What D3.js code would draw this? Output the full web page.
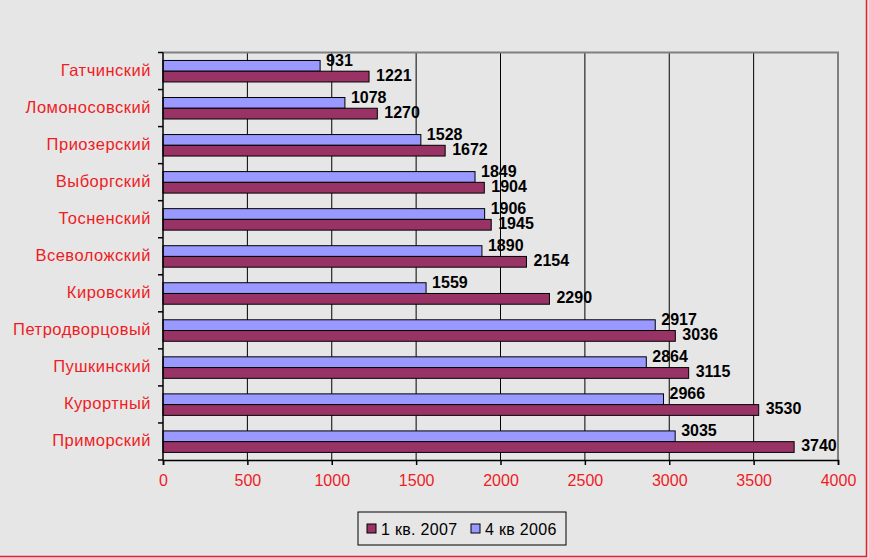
<!DOCTYPE html>
<html>
<head>
<meta charset="utf-8">
<script src="https://cdn.jsdelivr.net/npm/d3@7"></script>
<style>
  body { margin: 0; background: #e6e6e6; overflow: hidden; }
  svg { display: block; font-family: "Liberation Sans", Arial, sans-serif; }
</style>
</head>
<body>
<svg id="chart" width="869" height="558"></svg>
<script>
// районы, сверху вниз
var districts = [
  "Гатчинский", "Ломоносовский", "Приозерский", "Выборгский", "Тосненский",
  "Всеволожский", "Кировский", "Петродворцовый", "Пушкинский", "Курортный", "Приморский"
];
var q4_2006 = [931, 1078, 1528, 1849, 1906, 1890, 1559, 2917, 2864, 2966, 3035];
var q1_2007 = [1221, 1270, 1672, 1904, 1945, 2154, 2290, 3036, 3115, 3530, 3740];
var xTicks = [0, 500, 1000, 1500, 2000, 2500, 3000, 3500, 4000];
var seriesNames = ["4 кв 2006", "1 кв. 2007"];
var legendOrder = ["1 кв. 2007", "4 кв 2006"];
var colors = { "4 кв 2006": "#9999ff", "1 кв. 2007": "#993366" };

var svg = d3.select("#chart"),
  margin = { top: 52.5, right: 31, bottom: 98, left: 163 },
  width = +svg.attr("width") - margin.left - margin.right,
  height = +svg.attr("height") - margin.top - margin.bottom;

// фон и красная рамка (видна только справа и снизу)
svg.append("rect")
  .attr("width", 869).attr("height", 558)
  .attr("fill", "#e6e6e6");
svg.append("path")
  .attr("d", "M866.5,0V556.5H0")
  .attr("fill", "none")
  .attr("stroke", "#e8202a")
  .attr("stroke-width", 1.5);

var xScale = d3.scaleLinear().domain([0, 4000]).range([0, width]);
var yScale = d3.scaleBand().domain(districts).range([0, height]).padding(0);
var bw = yScale.bandwidth();
var inner = d3.scaleBand().domain(seriesNames).range([bw * 0.215, bw * 0.795]);

var g = svg.append("g")
  .attr("transform", "translate(" + margin.left + "," + margin.top + ")");

// вертикальная сетка
g.selectAll(".grid")
  .data(xTicks.slice(1, -1))
  .enter().append("line")
  .attr("x1", function (d) { return xScale(d); })
  .attr("x2", function (d) { return xScale(d); })
  .attr("y1", 0).attr("y2", height)
  .attr("stroke", "#000").attr("stroke-width", 1);

// рамка области построения (серая сверху и справа)
g.append("path")
  .attr("d", "M0,0H" + width + "V" + height)
  .attr("fill", "none")
  .attr("stroke", "#808080")
  .attr("stroke-width", 2);

var rows = districts.map(function (d, i) {
  return { name: d, values: [
    { s: "4 кв 2006", v: q4_2006[i] },
    { s: "1 кв. 2007", v: q1_2007[i] }
  ] };
});

var row = g.selectAll(".row")
  .data(rows)
  .enter().append("g")
  .attr("transform", function (d) { return "translate(0," + yScale(d.name) + ")"; });

row.selectAll("rect")
  .data(function (d) { return d.values; })
  .enter().append("rect")
  .attr("x", 0)
  .attr("y", function (d) { return inner(d.s); })
  .attr("width", function (d) { return xScale(d.v); })
  .attr("height", inner.bandwidth())
  .attr("fill", function (d) { return colors[d.s]; })
  .attr("stroke", "#000")
  .attr("stroke-width", 1);

row.selectAll(".lbl")
  .data(function (d) { return d.values; })
  .enter().append("text")
  .attr("x", function (d) { return xScale(d.v) + (d.s === "4 кв 2006" ? 6 : 7); })
  .attr("y", function (d) {
    return inner(d.s) + inner.bandwidth() / 2 + (d.s === "4 кв 2006" ? -6 : -1.5);
  })
  .attr("dy", "0.36em")
  .attr("font-size", 16)
  .attr("font-weight", "bold")
  .attr("fill", "#000")
  .text(function (d) { return d.v; });

// ось категорий
var yAxis = g.append("g");
yAxis.append("line")
  .attr("x1", 0).attr("x2", 0).attr("y1", 0).attr("y2", height)
  .attr("stroke", "#000").attr("stroke-width", 1.5);
yAxis.selectAll(".tk")
  .data(districts.concat(["__end"]))
  .enter().append("line")
  .attr("x1", -5).attr("x2", 0)
  .attr("y1", function (d) { return d === "__end" ? height : yScale(d); })
  .attr("y2", function (d) { return d === "__end" ? height : yScale(d); })
  .attr("stroke", "#000").attr("stroke-width", 1.5);
yAxis.selectAll(".cat")
  .data(districts)
  .enter().append("text")
  .attr("x", -12)
  .attr("y", function (d) { return yScale(d) + bw / 2 - 1; })
  .attr("dy", "0.36em")
  .attr("text-anchor", "end")
  .attr("font-size", 16.5)
  .attr("letter-spacing", 0.5)
  .attr("fill", "#ee1c25")
  .text(function (d) { return d; });

// ось значений
var xAxis = d3.axisBottom(xScale)
  .tickValues(xTicks)
  .tickSize(5)
  .tickPadding(10)
  .tickFormat(d3.format("d"));
var xg = g.append("g")
  .attr("transform", "translate(0," + height + ")")
  .call(xAxis);
xg.select(".domain").attr("stroke", "#000").attr("stroke-width", 1.5);
xg.selectAll(".tick line").attr("stroke", "#000").attr("stroke-width", 1.5);
xg.selectAll(".tick text")
  .attr("font-size", 16)
  .attr("font-family", "'Liberation Sans', Arial, sans-serif")
  .attr("fill", "#ee1c25");

// легенда
var legend = svg.append("g").attr("transform", "translate(358,512)");
legend.append("rect")
  .attr("width", 208).attr("height", 33)
  .attr("fill", "#e6e6e6")
  .attr("stroke", "#000").attr("stroke-width", 1);
var item = legend.selectAll(".item")
  .data(legendOrder)
  .enter().append("g")
  .attr("transform", function (d, i) { return "translate(" + (9 + i * 104) + ",0)"; });
item.append("rect")
  .attr("y", 12).attr("width", 9).attr("height", 9)
  .attr("fill", function (d) { return colors[d]; })
  .attr("stroke", "#000").attr("stroke-width", 1);
item.append("text")
  .attr("x", 14).attr("y", 17)
  .attr("dy", "0.36em")
  .attr("font-size", 16)
  .attr("letter-spacing", 0.3)
  .attr("fill", "#000")
  .text(function (d) { return d; });
</script>
</body>
</html>
